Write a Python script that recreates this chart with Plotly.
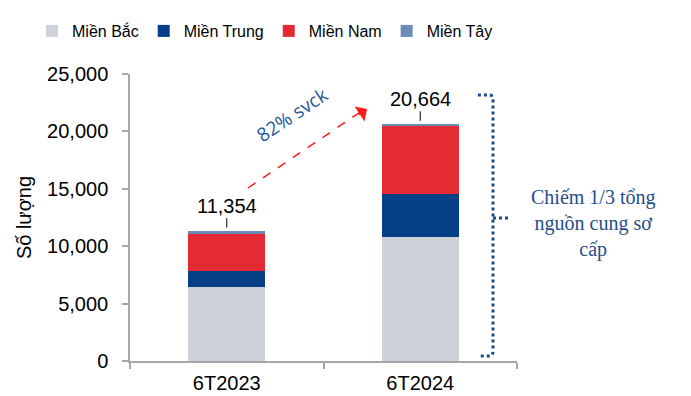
import plotly.graph_objects as go

categories = ["6T2023", "6T2024"]
series_names = ["Miền Bắc", "Miền Trung", "Miền Nam", "Miền Tây"]
mien_bac = [6450, 10830]
mien_trung = [1390, 3740]
mien_nam = [3260, 5880]
mien_tay = [254, 214]
totals = [11354, 20664]
y_ticks = [0, 5000, 10000, 15000, 20000, 25000]
growth_label = "82% svck"
bracket_label = "Chiếm 1/3 tổng<br>nguồn cung sơ<br>cấp"

colors = ["#CDD2DA", "#053F85", "#E42A33", "#6B8CB7"]
values = [mien_bac, mien_trung, mien_nam, mien_tay]

W, H = 691, 396
L, R, T, B = 130, 174, 74, 35
pw, ph = W - L - R, H - T - B

fig = go.Figure()
for name, vals, col in zip(series_names, values, colors):
    fig.add_trace(go.Bar(x=categories, y=vals, name=name, marker_color=col,
                         marker_line_width=0, width=0.4))

# total labels with small leader line
for c, t in zip(categories, totals):
    fig.add_annotation(x=c, y=t, text=f"{t:,}", showarrow=True, arrowhead=0,
                       arrowwidth=1, arrowcolor="#000", ax=0, ay=-25, standoff=3,
                       font=dict(size=20, color="#000", family="Liberation Sans, Arial"))

# growth arrow (dashed line + head)
x0, y0 = 0.11, 15070
x1, y1 = 0.70, 21800
fig.add_shape(type="line", xref="x", yref="y", x0=x0, y0=y0, x1=x1, y1=y1,
              line=dict(color="#FF1A1A", width=1.5, dash="dash"))
fig.add_annotation(x=0.725, y=21950, xref="x", yref="y",
                   ax=-10, ay=6.6, text="", showarrow=True, arrowhead=1,
                   arrowsize=2.0, arrowwidth=1.5, arrowcolor="#FF1A1A")
fig.add_annotation(x=0.335, y=21450, xref="x", yref="y", text=growth_label,
                   showarrow=False, textangle=-33.5,
                   font=dict(size=19, color="#1F579C", family="Open Sans"))

# bracket
bc = "#1A4A8A"
bd = dict(color=bc, width=3, dash="dot")
fig.add_shape(type="path", xref="paper", yref="y",
              path="M 0.899 23170 L 0.93 23170 Q 0.938 23170 0.938 22700 L 0.938 900 Q 0.938 435 0.93 435 L 0.899 435",
              line=bd)
fig.add_shape(type="line", xref="paper", yref="y", x0=0.938, x1=0.977, y0=12460, y1=12460,
              line=bd)
fig.add_annotation(x=(593 - L) / pw, y=(361 - 223) / ph, xref="paper", yref="paper",
                   xanchor="center", yanchor="middle", text=bracket_label,
                   showarrow=False, font=dict(size=20, color="#1F4E8C", family="Liberation Serif"))

fig.update_layout(
    width=W, height=H, margin=dict(l=L, r=R, t=T, b=B, autoexpand=False),
    paper_bgcolor="white", plot_bgcolor="white",
    barmode="stack", bargap=0.6,
    font=dict(family="Liberation Sans, Arial", size=20, color="#000"),
    legend=dict(orientation="h", xref="paper", yref="paper",
                x=(32 - L) / pw, y=(H - B - 31) / ph, xanchor="left", yanchor="middle",
                font=dict(size=16, family="Liberation Sans"),
                itemwidth=30, traceorder="normal", itemclick=False),
    showlegend=True,
)
fig.update_xaxes(showline=True, linecolor="#A6A6A6", linewidth=1.5, ticks="outside",
                 tickson="boundaries", ticklen=6, tickcolor="#A6A6A6", tickwidth=1.5,
                 tickfont=dict(size=20), showgrid=False, automargin=False,
                 ticklabelstandoff=3)
fig.update_yaxes(range=[0, 25000], tickvals=y_ticks, tickformat=",", showline=True,
                 linecolor="#A6A6A6", linewidth=1.5, ticks="outside", ticklen=6,
                 tickcolor="#A6A6A6", tickwidth=1.5, showgrid=False, zeroline=False,
                 ticklabelstandoff=10, tickfont=dict(size=20), automargin=False,
                 title=dict(text="Số lượng", standoff=10, font=dict(size=20)))

fig.write_html("out.html")
